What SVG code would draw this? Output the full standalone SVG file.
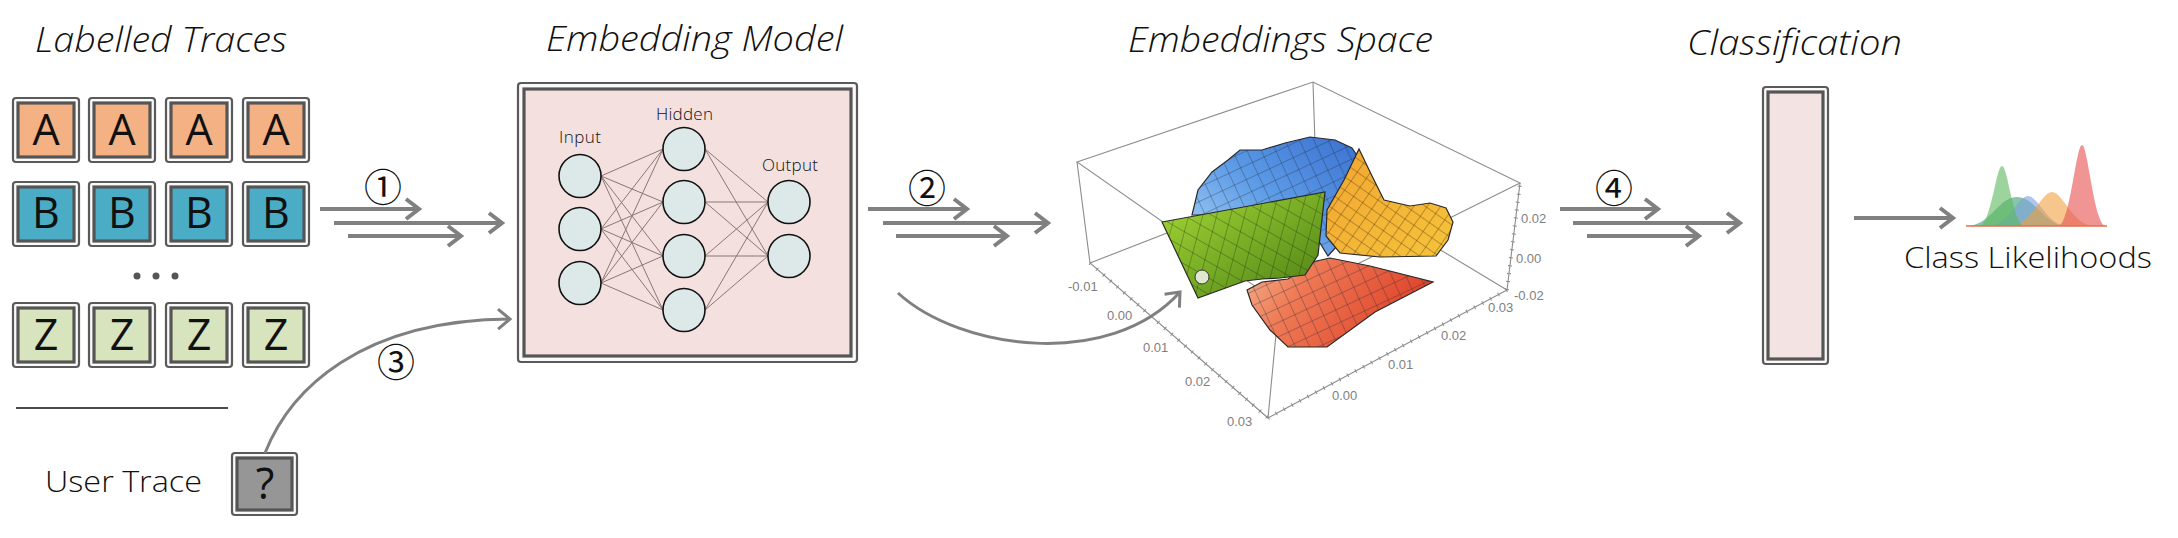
<svg xmlns="http://www.w3.org/2000/svg" width="2178" height="538" viewBox="0 0 2178 538">
<style>
.title{font-family:"Open Sans","Noto Sans",sans-serif;font-style:italic;font-weight:300;font-size:35px;fill:#111}
.lbl{font-family:"Open Sans","Noto Sans",sans-serif;font-weight:300;fill:#111}
.letter{font-family:"Open Sans","Noto Sans",sans-serif;font-weight:400;font-size:43px;fill:#111;text-anchor:middle}
.outer{fill:#fafafa;stroke:#5a5a5a;stroke-width:2.2}
.inner{stroke:#555;stroke-width:3.2}
.conn{fill:none;stroke:#808080;stroke-width:4;marker-end:url(#chev)}
.curve{fill:none;stroke:#808080;stroke-width:3;marker-end:url(#chev3)}
.num{font-family:"Noto Sans CJK JP","DejaVu Sans",sans-serif;font-size:38px;fill:#111;text-anchor:middle}
.nn{fill:#dde8e8;stroke:#111;stroke-width:1.6}
.syn{stroke:#8a7676;stroke-width:1}
.edge{stroke:#8c8c8c;stroke-width:1.1;fill:none}
.ax{font-family:"Liberation Sans",Arial,sans-serif;font-size:13px;fill:#808080}
.ticks{fill:none;stroke:#8c8c8c;stroke-width:4;stroke-dasharray:1 8}
.surf{stroke:#2a2a2a;stroke-width:1.2}
</style>
<defs>
<marker id="chev" markerUnits="userSpaceOnUse" markerWidth="24" markerHeight="28" refX="16" refY="14" orient="auto" overflow="visible">
<path d="M3,4 L16,14 L3,24" fill="none" stroke="#808080" stroke-width="4" stroke-linejoin="miter"/>
</marker>
<marker id="chev3" markerUnits="userSpaceOnUse" markerWidth="24" markerHeight="28" refX="15" refY="14" orient="auto" overflow="visible">
<path d="M3,4 L15,14 L3,24" fill="none" stroke="#808080" stroke-width="3"/>
</marker>
<linearGradient id="gBlue" x1="0" y1="1" x2="1" y2="0">
<stop offset="0" stop-color="#a9d2f6"/><stop offset="0.5" stop-color="#5c9be6"/><stop offset="1" stop-color="#3a6fd0"/>
</linearGradient>
<linearGradient id="gGreen" x1="0" y1="0" x2="1" y2="1">
<stop offset="0" stop-color="#a6d936"/><stop offset="0.6" stop-color="#6fa422"/><stop offset="1" stop-color="#4d7e14"/>
</linearGradient>
<linearGradient id="gOrange" x1="0" y1="0" x2="1" y2="1">
<stop offset="0" stop-color="#f2a531"/><stop offset="1" stop-color="#f5c43a"/>
</linearGradient>
<linearGradient id="gRed" x1="0" y1="0" x2="1" y2="0.3">
<stop offset="0" stop-color="#f4b08c"/><stop offset="0.35" stop-color="#ef7a55"/><stop offset="1" stop-color="#e0432a"/>
</linearGradient>
<pattern id="meshA" width="13" height="13" patternUnits="userSpaceOnUse" patternTransform="rotate(-25)">
<path d="M0,0 H13 M0,0 V13" stroke="#1d2a3a" stroke-width="0.9" fill="none" opacity="0.7"/>
</pattern>
<pattern id="meshB" width="14" height="14" patternUnits="userSpaceOnUse" patternTransform="rotate(30) skewX(15)">
<path d="M0,0 H14 M0,0 V14" stroke="#1f2a10" stroke-width="0.9" fill="none" opacity="0.7"/>
</pattern>
<pattern id="meshC" width="11" height="11" patternUnits="userSpaceOnUse" patternTransform="rotate(35)">
<path d="M0,0 H11 M0,0 V11" stroke="#3a1a0a" stroke-width="0.9" fill="none" opacity="0.7"/>
</pattern>
</defs>
<rect width="2178" height="538" fill="#ffffff"/>

<!-- Titles -->
<text class="title" x="35" y="52" textLength="252" lengthAdjust="spacingAndGlyphs">Labelled Traces</text>
<text class="title" x="546" y="51" textLength="297" lengthAdjust="spacingAndGlyphs">Embedding Model</text>
<text class="title" x="1128" y="52" textLength="305" lengthAdjust="spacingAndGlyphs">Embeddings Space</text>
<text class="title" x="1687" y="55" textLength="215" lengthAdjust="spacingAndGlyphs">Classification</text>

<!-- Labelled traces -->
<g id="traces-A">
<rect class="outer" x="13" y="98" width="66" height="64" rx="3"/><rect class="inner" x="18" y="103" width="56" height="54" fill="#f4b183"/><text class="letter" x="46" y="145">A</text>
<rect class="outer" x="89" y="98" width="66" height="64" rx="3"/><rect class="inner" x="94" y="103" width="56" height="54" fill="#f4b183"/><text class="letter" x="122" y="145">A</text>
<rect class="outer" x="166" y="98" width="66" height="64" rx="3"/><rect class="inner" x="171" y="103" width="56" height="54" fill="#f4b183"/><text class="letter" x="199" y="145">A</text>
<rect class="outer" x="243" y="98" width="66" height="64" rx="3"/><rect class="inner" x="248" y="103" width="56" height="54" fill="#f4b183"/><text class="letter" x="276" y="145">A</text>
</g>
<g id="traces-B">
<rect class="outer" x="13" y="182" width="66" height="64" rx="3"/><rect class="inner" x="18" y="187" width="56" height="54" fill="#4bacc6"/><text class="letter" x="46" y="228">B</text>
<rect class="outer" x="89" y="182" width="66" height="64" rx="3"/><rect class="inner" x="94" y="187" width="56" height="54" fill="#4bacc6"/><text class="letter" x="122" y="228">B</text>
<rect class="outer" x="166" y="182" width="66" height="64" rx="3"/><rect class="inner" x="171" y="187" width="56" height="54" fill="#4bacc6"/><text class="letter" x="199" y="228">B</text>
<rect class="outer" x="243" y="182" width="66" height="64" rx="3"/><rect class="inner" x="248" y="187" width="56" height="54" fill="#4bacc6"/><text class="letter" x="276" y="228">B</text>
</g>
<g id="ellipsis">
<circle cx="137" cy="276" r="3.5" fill="#555"/><circle cx="156" cy="276" r="3.5" fill="#555"/><circle cx="175" cy="276" r="3.5" fill="#555"/>
</g>
<g id="traces-Z">
<rect class="outer" x="13" y="303" width="66" height="64" rx="3"/><rect class="inner" x="18" y="308" width="56" height="54" fill="#d7e4bd"/><text class="letter" x="46" y="350">Z</text>
<rect class="outer" x="89" y="303" width="66" height="64" rx="3"/><rect class="inner" x="94" y="308" width="56" height="54" fill="#d7e4bd"/><text class="letter" x="122" y="350">Z</text>
<rect class="outer" x="166" y="303" width="66" height="64" rx="3"/><rect class="inner" x="171" y="308" width="56" height="54" fill="#d7e4bd"/><text class="letter" x="199" y="350">Z</text>
<rect class="outer" x="243" y="303" width="66" height="64" rx="3"/><rect class="inner" x="248" y="308" width="56" height="54" fill="#d7e4bd"/><text class="letter" x="276" y="350">Z</text>
</g>
<line x1="16" y1="408" x2="228" y2="408" stroke="#111" stroke-width="1.5"/>

<g id="user-trace">
<text class="lbl" x="45" y="492" font-size="30" textLength="157" lengthAdjust="spacingAndGlyphs">User Trace</text>
<rect class="outer" x="232" y="453" width="65" height="62" rx="3"/><rect class="inner" x="237" y="458" width="55" height="52" fill="#969696"/>
<text class="letter" x="265" y="499" font-size="40">?</text>
</g>

<!-- Embedding model -->
<g id="embedding-model">
<rect class="outer" x="518" y="83" width="339" height="279" rx="3"/>
<rect class="inner" x="524" y="89" width="327" height="267" fill="#f3e0df"/>
<g>
<line class="syn" x1="601" y1="176" x2="663" y2="149"/><line class="syn" x1="601" y1="176" x2="663" y2="202"/><line class="syn" x1="601" y1="176" x2="663" y2="256"/><line class="syn" x1="601" y1="176" x2="663" y2="310"/>
<line class="syn" x1="601" y1="229" x2="663" y2="149"/><line class="syn" x1="601" y1="229" x2="663" y2="202"/><line class="syn" x1="601" y1="229" x2="663" y2="256"/><line class="syn" x1="601" y1="229" x2="663" y2="310"/>
<line class="syn" x1="601" y1="283" x2="663" y2="149"/><line class="syn" x1="601" y1="283" x2="663" y2="202"/><line class="syn" x1="601" y1="283" x2="663" y2="256"/><line class="syn" x1="601" y1="283" x2="663" y2="310"/>
<line class="syn" x1="705" y1="149" x2="768" y2="202"/><line class="syn" x1="705" y1="149" x2="768" y2="256"/>
<line class="syn" x1="705" y1="202" x2="768" y2="202"/><line class="syn" x1="705" y1="202" x2="768" y2="256"/>
<line class="syn" x1="705" y1="256" x2="768" y2="202"/><line class="syn" x1="705" y1="256" x2="768" y2="256"/>
<line class="syn" x1="705" y1="310" x2="768" y2="202"/><line class="syn" x1="705" y1="310" x2="768" y2="256"/>
</g>
<ellipse class="nn" cx="580" cy="176" rx="21" ry="21.5"/><ellipse class="nn" cx="580" cy="229" rx="21" ry="21.5"/><ellipse class="nn" cx="580" cy="283" rx="21" ry="21.5"/>
<ellipse class="nn" cx="684" cy="149" rx="21" ry="21.5"/><ellipse class="nn" cx="684" cy="202" rx="21" ry="21.5"/><ellipse class="nn" cx="684" cy="256" rx="21" ry="21.5"/><ellipse class="nn" cx="684" cy="310" rx="21" ry="21.5"/>
<ellipse class="nn" cx="789" cy="202" rx="21" ry="21.5"/><ellipse class="nn" cx="789" cy="256" rx="21" ry="21.5"/>
<text class="lbl" x="559" y="143" font-size="17" font-weight="400" textLength="42">Input</text>
<text class="lbl" x="656" y="120" font-size="17" font-weight="400" textLength="57">Hidden</text>
<text class="lbl" x="762" y="171" font-size="17" font-weight="400" textLength="56">Output</text>
</g>

<!-- Embeddings space -->
<g id="embeddings-space">
<g class="edge">
<path d="M1077,162 L1313,82 L1520,183 L1279,303 Z"/>
<path d="M1090,263 L1316,175 L1507,290 L1268,418 Z"/>
<path d="M1077,162 L1090,263 M1313,82 L1316,175 M1520,183 L1507,290 M1279,303 L1268,418"/>
</g>
<path class="ticks" d="M1090,263 L1268,418"/>
<path class="ticks" d="M1268,418 L1507,290"/>
<path class="ticks" d="M1507,290 L1520,183" style="stroke-dasharray:1 7"/>
<text class="ax" x="1068" y="291">-0.01</text>
<text class="ax" x="1107" y="320">0.00</text>
<text class="ax" x="1143" y="352">0.01</text>
<text class="ax" x="1185" y="386">0.02</text>
<text class="ax" x="1227" y="426">0.03</text>
<text class="ax" x="1332" y="400">0.00</text>
<text class="ax" x="1388" y="369">0.01</text>
<text class="ax" x="1441" y="340">0.02</text>
<text class="ax" x="1488" y="312">0.03</text>
<text class="ax" x="1521" y="223">0.02</text>
<text class="ax" x="1516" y="263">0.00</text>
<text class="ax" x="1514" y="300">-0.02</text>
<polygon class="surf" fill="url(#gBlue)" points="1192,215 1198,190 1212,172 1228,160 1240,150 1262,150 1285,143 1310,137 1335,140 1352,148 1360,160 1350,185 1342,210 1338,245 1328,256 1315,235 1300,222 1240,215"/>
<polygon fill="url(#meshA)" points="1192,215 1198,190 1212,172 1228,160 1240,150 1262,150 1285,143 1310,137 1335,140 1352,148 1360,160 1350,185 1342,210 1338,245 1328,256 1315,235 1300,222 1240,215"/>
<polygon class="surf" fill="url(#gOrange)" points="1359,149 1372,176 1384,200 1410,206 1430,203 1446,208 1453,222 1448,240 1436,256 1380,257 1340,253 1326,236 1327,210 1344,180"/>
<polygon fill="url(#meshC)" points="1359,149 1372,176 1384,200 1410,206 1430,203 1446,208 1453,222 1448,240 1436,256 1380,257 1340,253 1326,236 1327,210 1344,180"/>
<polygon class="surf" fill="url(#gRed)" points="1247,290 1262,282 1288,279 1312,262 1330,258 1370,266 1433,282 1375,312 1327,347 1288,347 1270,330 1252,305"/>
<polygon fill="url(#meshA)" points="1247,290 1262,282 1288,279 1312,262 1330,258 1370,266 1433,282 1375,312 1327,347 1288,347 1270,330 1252,305"/>
<polygon class="surf" fill="url(#gGreen)" points="1162,222 1325,192 1318,255 1305,275 1280,278 1262,279 1245,281 1198,298"/>
<polygon fill="url(#meshB)" points="1162,222 1325,192 1318,255 1305,275 1280,278 1262,279 1245,281 1198,298"/>
<circle cx="1202" cy="277" r="7" fill="#dfe8cf" stroke="#333" stroke-width="1"/>
</g>

<!-- Classification -->
<g id="classification">
<rect class="outer" x="1763" y="87" width="65" height="277" rx="3"/>
<rect class="inner" x="1768" y="92" width="55" height="267" fill="#f3e3e3"/>
</g>

<!-- Class likelihoods -->
<g id="class-likelihoods">
<path d="M1966,226 C1991,226 1998,197 2017,197 S2043,226 2068,226 Z" fill="#3aa070" opacity="0.6"/>
<path d="M1989,226 C2008,226 2018,196 2028,196 S2048,226 2067,226 Z" fill="#7b9fe0" opacity="0.6"/>
<path d="M2010,226 C2031,226 2041,192 2052,192 S2073,226 2094,226 Z" fill="#f0a040" opacity="0.6"/>
<path d="M1979,226 C1991,226 1996,166 2002,166 S2013,226 2025,226 Z" fill="#5cb85c" opacity="0.6"/>
<path d="M2058,226 C2070,226 2076,145 2082,145 S2094,226 2106,226 Z" fill="#e85a5a" opacity="0.65"/>
<line x1="1966" y1="226" x2="2107" y2="226" stroke="#e07050" stroke-width="1.5"/>
<text class="lbl" x="1904" y="268" font-size="30" textLength="248" lengthAdjust="spacingAndGlyphs">Class Likelihoods</text>
</g>

<!-- Connectors -->
<g id="connectors">
<path class="conn" d="M320,209 H419"/>
<path class="conn" d="M334,223 H502"/>
<path class="conn" d="M348,236 H461"/>
<path class="curve" d="M265,453 C290,390 360,320 510,319"/>
<path class="conn" d="M868,209 H967"/>
<path class="conn" d="M883,223 H1048"/>
<path class="conn" d="M896,236 H1007"/>
<path class="curve" d="M898,293 C960,350 1110,370 1180,292"/>
<path class="conn" d="M1560,209 H1658"/>
<path class="conn" d="M1573,223 H1740"/>
<path class="conn" d="M1587,236 H1699"/>
<path class="conn" d="M1854,218 H1953"/>
<text class="num" x="383" y="201">①</text>
<text class="num" x="927" y="202">②</text>
<text class="num" x="396" y="376">③</text>
<text class="num" x="1614" y="202">④</text>
</g>
</svg>
